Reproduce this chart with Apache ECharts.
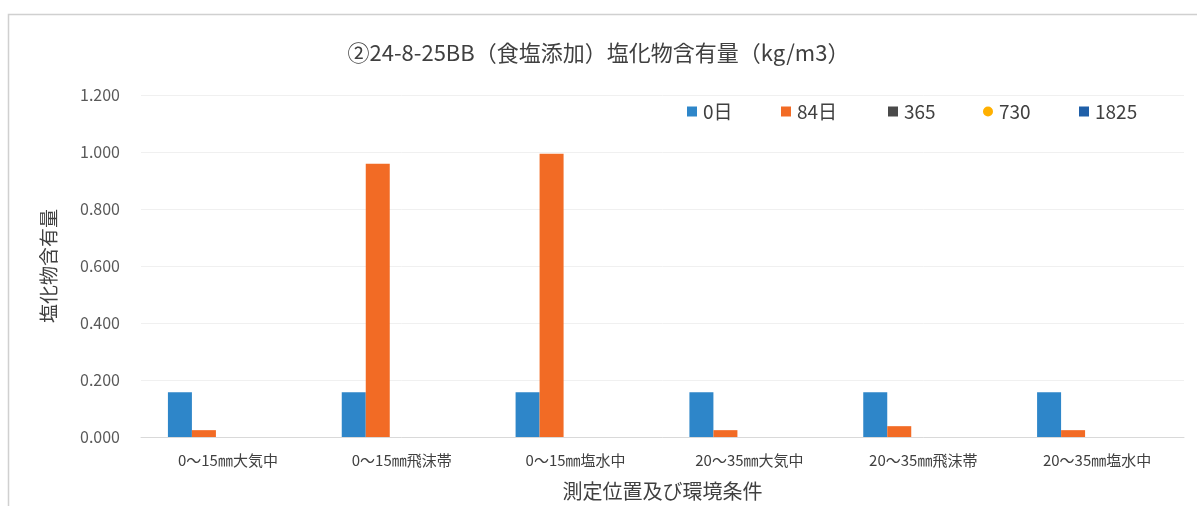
<!DOCTYPE html>
<html>
<head>
<meta charset="utf-8">
<script src="https://cdn.jsdelivr.net/npm/echarts@6/dist/echarts.min.js"></script>
<style>
html,body{margin:0;padding:0;background:#fff;}
#chart{width:1197px;height:506px;}
</style>
</head>
<body>
<div id="chart"></div>
<script>
const categories = ['0～15㎜大気中','0～15㎜飛沫帯','0～15㎜塩水中','20～35㎜大気中','20～35㎜飛沫帯','20～35㎜塩水中'];
const seriesNames = ['0日','84日','365','730','1825'];
const day0 = [0.157,0.157,0.157,0.157,0.157,0.157];
const day84 = [0.024,0.959,0.994,0.024,0.038,0.024];
const day365 = [null,null,null,null,null,null];
const day730 = [null,null,null,null,null,null];
const day1825 = [null,null,null,null,null,null];
const yTicks = [0,0.2,0.4,0.6,0.8,1.0,1.2];

const colors = ['#2E86C9','#F26B25','#4a4a4a','#FFB000','#1F5FA8'];
const dataSets = [day0,day84,day365,day730,day1825];
const legendLefts = [682,776,883,978,1074];
const font = '"Noto Sans CJK JP", "Noto Sans", sans-serif';

const chart = echarts.init(document.getElementById('chart'), null, {renderer:'canvas'});
chart.setOption({
  backgroundColor:'#fff',
  animation:false,
  color: colors,
  graphic:[{type:'rect',shape:{x:8.5,y:14.5,width:1250,height:520},style:{fill:'none',stroke:'#d0d0d0',lineWidth:1.5},silent:true}],
  title:{
    text:'②24-8-25BB（食塩添加）塩化物含有量（kg/m3）',
    left:'center', top:37,
    textStyle:{fontFamily:font,fontSize:22,fontWeight:'normal',color:'#404040'}
  },
  legend: seriesNames.map((n,i)=>({
    data:[n],
    left:legendLefts[i], top:97,
    itemWidth:10, itemHeight:10, itemGap:0,
    icon: i===3 ? 'circle' : 'rect',
    textStyle:{fontFamily:font,fontSize:19,color:'#404040',padding:[0,0,0,1]}
  })),
  grid:{left:141,right:13,top:95,bottom:67,containLabel:false},
  xAxis:{
    type:'category',
    data: categories,
    name:'測定位置及び環境条件',
    nameLocation:'middle',
    nameGap:44,
    nameTextStyle:{fontFamily:font,fontSize:20,color:'#404040'},
    axisLine:{lineStyle:{color:'#d9d9d9'}},
    axisTick:{show:false},
    axisLabel:{fontFamily:font,fontSize:15,color:'#404040',margin:16}
  },
  yAxis:{
    type:'value',
    min:0,max:1.2,interval:0.2,
    name:'塩化物含有量',
    nameLocation:'middle',
    nameRotate:90,
    nameGap:83,
    nameTextStyle:{fontFamily:font,fontSize:19,color:'#404040'},
    axisLine:{show:false},
    axisTick:{show:false},
    splitLine:{lineStyle:{color:'#f0f0f0'}},
    axisLabel:{fontFamily:font,fontSize:16,color:'#595959',margin:21,
      formatter:v=>v.toFixed(3)}
  },
  series: seriesNames.map((n,i)=>({
    name:n, type:'bar', data:dataSets[i],
    barWidth:24, barGap:'0%',
    itemStyle:{color:colors[i]}
  }))
});
</script>
</body>
</html>
